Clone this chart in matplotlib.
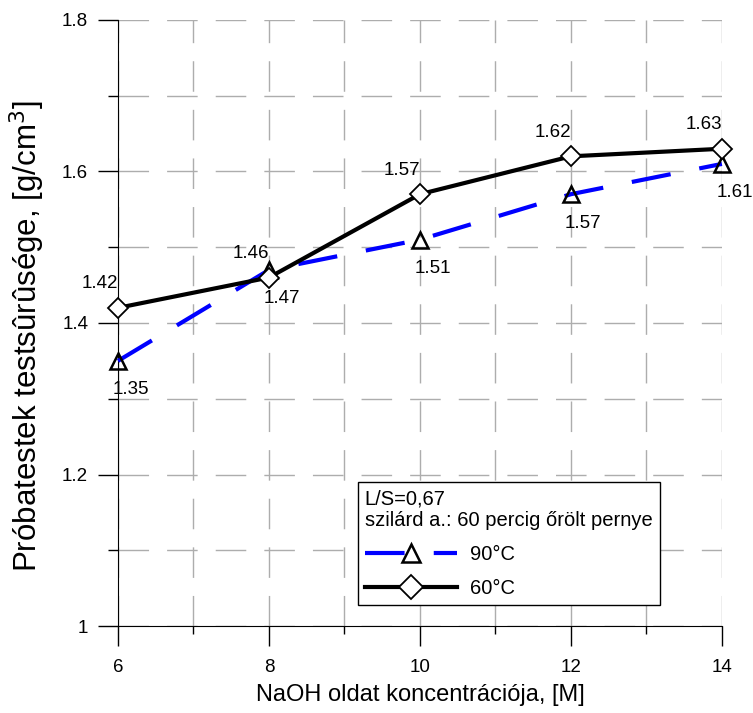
import numpy as np
import matplotlib.pyplot as plt
from matplotlib.ticker import MultipleLocator

plt.rcParams['font.family'] = ['Liberation Sans', 'DejaVu Sans']

# NaOH concentration [M]
conc = [6, 8, 10, 12, 14]
# bulk density [g/cm3]
dens_90 = [1.35, 1.47, 1.51, 1.57, 1.61]
dens_60 = [1.42, 1.46, 1.57, 1.62, 1.63]

fig = plt.figure(figsize=(7.53, 7.13), dpi=100)
ax = fig.add_axes([0.1567, 0.122, 0.802, 0.850])

ax.plot(conc, dens_90, color='#0000ff', lw=3, dashes=(9.5, 7),
        marker='^', markersize=11, markerfacecolor='none',
        markeredgecolor='black', markeredgewidth=1.8, label='90°C',
        zorder=3, clip_on=False)
ax.plot(conc, dens_60, color='black', lw=3,
        marker='D', markersize=10, markerfacecolor='white',
        markeredgecolor='black', markeredgewidth=1.3, label='60°C',
        zorder=4, clip_on=False)

# value labels: 60 C above-left, 90 C below-right
for x, y in zip(conc, dens_60):
    ax.annotate(f"{y:.2f}", (x, y), xytext=(-13, 14), textcoords='offset points',
                ha='center', va='baseline', fontsize=13.5, annotation_clip=False)
for x, y in zip(conc, dens_90):
    ax.annotate(f"{y:.2f}", (x, y), xytext=(9, -24), textcoords='offset points',
                ha='center', va='baseline', fontsize=13.5, annotation_clip=False)

ax.set_xlim(6, 14)
ax.set_ylim(1.0, 1.8)
ax.xaxis.set_major_locator(MultipleLocator(2))
ax.xaxis.set_minor_locator(MultipleLocator(1))
ax.yaxis.set_minor_locator(MultipleLocator(0.1))
ax.set_yticks([1.0, 1.2, 1.4, 1.6, 1.8])
ax.set_yticklabels(['1', '1.2', '1.4', '1.6', '1.8'])

ax.spines['top'].set_visible(False)
ax.spines['right'].set_visible(False)
ax.tick_params(axis='y', which='major', direction='out', length=14.5, width=1, labelsize=13.5, pad=7)
ax.tick_params(axis='y', which='minor', direction='out', length=7, width=1)
ax.tick_params(axis='x', which='major', direction='out', length=14.5, width=1, labelsize=13.5, pad=9)
ax.tick_params(axis='x', which='minor', direction='out', length=6, width=1)

ax.grid(True, which='both', color='#adadad', lw=1, dashes=(22, 13))

ax.set_xlabel('NaOH oldat koncentrációja, [M]', fontsize=17, labelpad=6)
ax.set_ylabel('Próbatestek testsûrûsége, [g/cm$^3$]', fontsize=22.5)
ax.yaxis.set_label_coords(-0.117, 0.4785)

leg = ax.legend(loc='lower left', bbox_to_anchor=(0.397, 0.034), borderaxespad=0,
                title='L/S=0,67\nszilárd a.: 60 percig őrölt pernye',
                fontsize=14.5, title_fontsize=14.5, frameon=True, fancybox=False,
                edgecolor='black', framealpha=1, handlelength=4.6, borderpad=0.35,
                markerscale=1.2, labelspacing=0.75, handletextpad=0.6)
leg._legend_box.align = 'left'
leg.get_frame().set_linewidth(1)

fig.savefig('out.png', dpi=100)
